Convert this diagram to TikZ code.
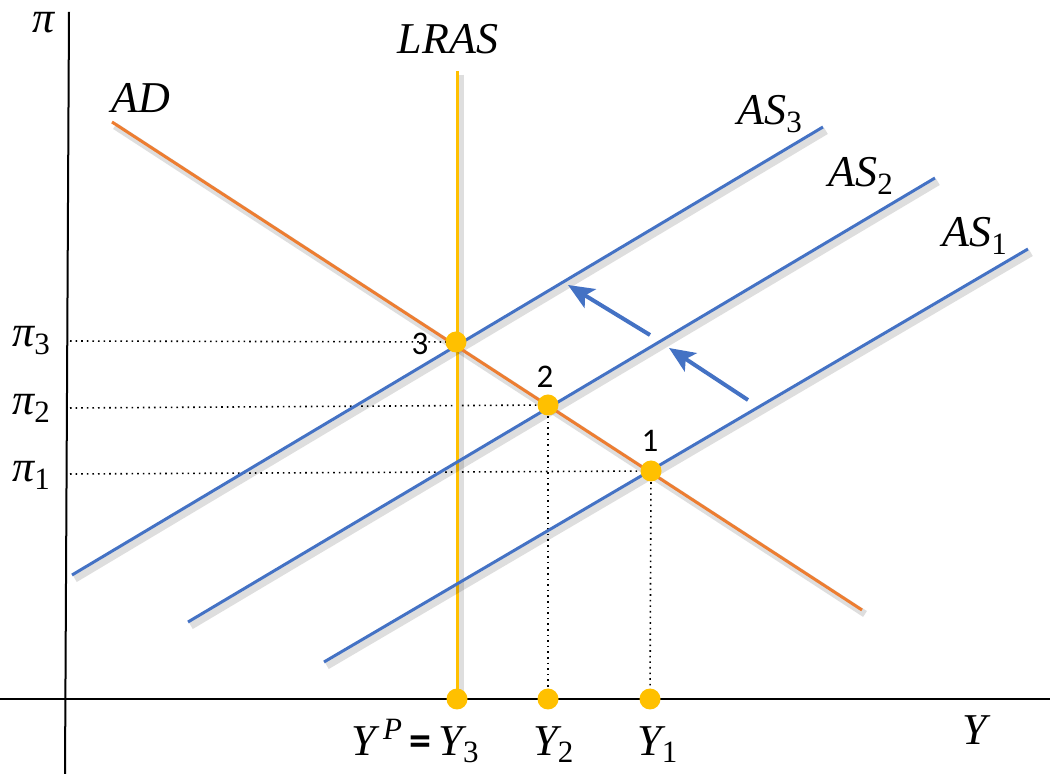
\documentclass[tikz,border=0pt]{standalone}
\usepackage{fontspec}
\setmainfont{Liberation Serif}
\newfontfamily\numfont{Carlito}
\usetikzlibrary{arrows.meta}
\definecolor{adorange}{HTML}{ED7D31}
\definecolor{asblue}{HTML}{4472C4}
\definecolor{lrasyellow}{HTML}{FFC000}
\definecolor{dotyellow}{HTML}{FFC000}
\newcommand\sbs[1]{\raisebox{-0.35ex}{\fontsize{15.5}{16}\selectfont\upshape #1}}
\newcommand\sps[1]{\raisebox{0.75ex}{\fontsize{15.5}{16}\selectfont\itshape #1}}
\begin{document}
\begin{tikzpicture}[x=0.5pt,y=-0.5pt,
  axis/.style={line width=1pt, black},
  shadowed/.style={preaction={draw=black, opacity=0.13, line width=3.5pt, transform canvas={xshift=1.5pt,yshift=-2pt}}},
  adline/.style={adorange, line width=1.5pt, shadowed},
  asline/.style={asblue, line width=1.5pt, shadowed},
  lrasline/.style={lrasyellow, line width=1.5pt, shadowed},
  guide/.style={dotted, line width=0.8pt},
  eq/.style={circle, fill=dotyellow, inner sep=0pt, minimum size=10.5pt},
  lbl/.style={font=\fontsize{22}{24}\selectfont\itshape, inner sep=0pt},
  num/.style={font=\numfont\fontsize{16.5}{18}\selectfont, inner sep=0pt},
  shiftarrow/.style={-{Stealth[length=13pt,width=11pt,inset=3pt]}, asblue, line width=2pt}]
\useasboundingbox (0,0) rectangle (1050,774);

% axes
\coordinate (vtop) at (69,12);
\coordinate (vbot) at (65,774);
\coordinate (hl) at (0,699);
\coordinate (hr) at (1050,699);
\draw[axis] (vtop) -- (vbot);
\draw[axis] (hl) -- (hr);

% equilibrium points
\coordinate (p3) at (456,342);
\coordinate (p2) at (548,405);
\coordinate (p1) at (651,471);
\coordinate (y3) at (457,699);
\coordinate (y2) at (548,699);
\coordinate (y1) at (650,699);
\coordinate (g3) at (70,341);
\coordinate (g2) at (70,408);
\coordinate (g1) at (70,474);

% guides
\draw[guide] (g3) -- (p3);
\draw[guide] (g2) -- (p2);
\draw[guide] (g1) -- (p1);
\draw[guide] (p2) -- (y2);
\draw[guide] (p1) -- (y1);

% curves
\coordinate (lrastop) at (457,71);
\draw[lrasline] (lrastop) -- (y3);
\coordinate (as3a) at (72,575);
\coordinate (as3b) at (823,127);
\coordinate (as2a) at (188,622);
\coordinate (as2b) at (935,178);
\coordinate (as1a) at (324,662);
\coordinate (as1b) at (1028,249);
\draw[asline] (as3a) -- (as3b);
\draw[asline] (as2a) -- (as2b);
\draw[asline] (as1a) -- (as1b);
\coordinate (ada) at (112,122);
\coordinate (adb) at (862,610);
\draw[adline] (ada) -- (adb);

% shift arrows
\coordinate (s1a) at (748,400);
\coordinate (s1b) at (669,348);
\coordinate (s2a) at (650,335);
\coordinate (s2b) at (568,285);
\draw[shiftarrow] (s1a) -- (s1b);
\draw[shiftarrow] (s2a) -- (s2b);

% dots
\node[eq] (e3) at (p3) {};
\node[eq] (e2) at (p2) {};
\node[eq] (e1) at (p1) {};
\node[eq] (ey3) at (y3) {};
\node[eq] (ey2) at (y2) {};
\node[eq] (ey1) at (y1) {};

% labels
\node[lbl, anchor=base] (pilab) at (44,33) {π};
\node[lbl, anchor=base] (adlab) at (141,113) {AD};
\node[lbl, anchor=base] (lraslab) at (448,54) {LRAS};
\node[lbl, anchor=base west] (as3lab) at (737,125) {AS\sbs{3}};
\node[lbl, anchor=base west] (as2lab) at (828,187) {AS\sbs{2}};
\node[lbl, anchor=base west] (as1lab) at (942,247) {AS\sbs{1}};
\node[lbl, anchor=base west] (pi3lab) at (12,347) {π\sbs{3}};
\node[lbl, anchor=base west] (pi2lab) at (12,415) {π\sbs{2}};
\node[lbl, anchor=base west] (pi1lab) at (12,482) {π\sbs{1}};
\node[lbl, anchor=base] (yplab) at (415,755) {Y\,\sps{P}\,{\upshape\numfont\bfseries=}\,Y\sbs{3}};
\node[lbl, anchor=base west] (y2lab) at (533,755) {Y\sbs{2}};
\node[lbl, anchor=base west] (y1lab) at (637,755) {Y\sbs{1}};
\node[lbl, anchor=base] (ylab) at (975,745) {Y};
\node[num] (n3) at (420,344) {3};
\node[num] (n2) at (545,377) {2};
\node[num] (n1) at (650,441) {1};
\end{tikzpicture}
\end{document}
